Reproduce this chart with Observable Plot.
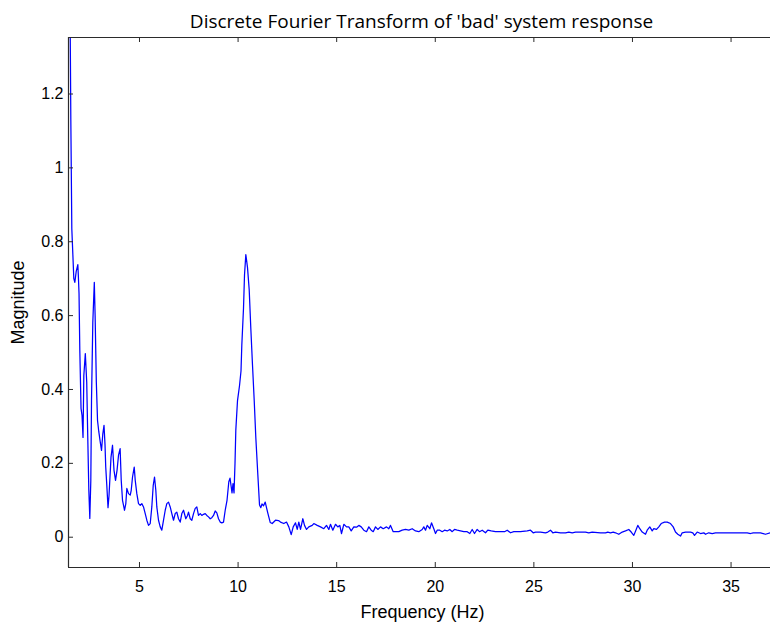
<!DOCTYPE html>
<html>
<head>
<meta charset="utf-8">
<script src="https://cdn.jsdelivr.net/npm/d3@7"></script>
<script src="https://cdn.jsdelivr.net/npm/@observablehq/plot@0.6"></script>
<style>
  html, body { margin: 0; padding: 0; background: #fff; overflow: hidden; }
  #chart svg { display: block; }
</style>
</head>
<body>
<div id="chart"></div>
<script>
// ---- Data ----
const titleText = "Discrete Fourier Transform of 'bad' system response";
const xLabelText = "Frequency (Hz)";
const yLabelText = "Magnitude";

const xTicks = [5, 10, 15, 20, 25, 30, 35];
const yTicks = [0, 0.2, 0.4, 0.6, 0.8, 1, 1.2];
const yTickLabels = ["0", "0.2", "0.4", "0.6", "0.8", "1", "1.2"];

const xDomain = [1.4, 37.0];
const yDomain = [-0.082, 1.353];

const freqHz = [
  1.477, 1.518, 1.568, 1.670, 1.721, 1.792, 1.873, 1.898, 1.934, 1.974,
  2.035, 2.086, 2.136, 2.177, 2.253, 2.324, 2.375, 2.431, 2.481, 2.532,
  2.567, 2.633, 2.709, 2.750, 2.811, 2.872, 2.938, 3.009, 3.075, 3.140,
  3.201, 3.252, 3.288, 3.343, 3.404, 3.455, 3.556, 3.632, 3.708, 3.785,
  3.861, 3.937, 4.018, 4.074, 4.139, 4.241, 4.307, 4.358, 4.444, 4.530,
  4.581, 4.647, 4.733, 4.784, 4.865, 4.951, 5.037, 5.118, 5.204, 5.291,
  5.372, 5.458, 5.544, 5.625, 5.696, 5.762, 5.828, 5.879, 5.965, 6.051,
  6.132, 6.219, 6.305, 6.386, 6.472, 6.558, 6.640, 6.726, 6.811, 6.893,
  6.979, 7.065, 7.147, 7.233, 7.349, 7.436, 7.486, 7.572, 7.654, 7.740,
  7.826, 7.907, 7.993, 8.080, 8.161, 8.247, 8.333, 8.414, 8.501, 8.587,
  8.668, 8.754, 8.840, 8.922, 9.008, 9.094, 9.175, 9.261, 9.347, 9.439,
  9.530, 9.591, 9.642, 9.692, 9.743, 9.794, 9.844, 9.885, 9.971, 10.072,
  10.148, 10.189, 10.275, 10.326, 10.392, 10.443, 10.478, 10.564, 10.646, 10.732,
  10.818, 10.899, 11.001, 11.087, 11.153, 11.213, 11.290, 11.376, 11.508, 11.629,
  11.731, 11.898, 12.050, 12.152, 12.319, 12.456, 12.573, 12.694, 12.796, 12.912,
  12.999, 13.080, 13.166, 13.283, 13.369, 13.470, 13.587, 13.759, 13.840, 14.013,
  14.180, 14.347, 14.484, 14.601, 14.687, 14.804, 14.941, 15.057, 15.159, 15.245,
  15.362, 15.499, 15.615, 15.737, 15.869, 16.006, 16.122, 16.244, 16.376, 16.513,
  16.630, 16.751, 16.853, 16.969, 17.086, 17.223, 17.360, 17.527, 17.644, 17.730,
  17.867, 17.984, 18.151, 18.323, 18.490, 18.658, 18.830, 18.998, 19.165, 19.337,
  19.418, 19.505, 19.591, 19.723, 19.809, 19.926, 20.012, 20.098, 20.230, 20.352,
  20.468, 20.605, 20.737, 20.859, 20.975, 21.112, 21.280, 21.447, 21.619, 21.751,
  21.873, 21.989, 22.126, 22.243, 22.380, 22.547, 22.664, 22.836, 23.055, 23.308,
  23.511, 23.648, 23.815, 23.982, 24.322, 24.662, 24.829, 24.966, 25.083, 25.336,
  25.590, 25.707, 25.843, 25.960, 26.097, 26.350, 26.604, 26.772, 26.944, 27.111,
  27.618, 27.786, 27.958, 28.379, 28.633, 28.749, 28.886, 29.023, 29.140, 29.307,
  29.479, 29.647, 29.814, 29.936, 30.068, 30.189, 30.270, 30.372, 30.494, 30.661,
  30.747, 30.879, 31.001, 31.082, 31.219, 31.335, 31.457, 31.624, 31.761, 31.929,
  32.066, 32.182, 32.299, 32.436, 32.522, 32.690, 32.943, 33.060, 33.147, 33.283,
  33.450, 33.618, 33.704, 33.871, 34.044, 34.211, 34.464, 34.804, 35.311, 35.818,
  35.986, 36.122, 36.325, 36.493, 36.746, 37.000
];

const magnitude = [
  1.450, 1.130, 0.835, 0.700, 0.690, 0.720, 0.738, 0.710, 0.660, 0.505,
  0.349, 0.330, 0.270, 0.438, 0.497, 0.420, 0.276, 0.127, 0.051, 0.154,
  0.370, 0.582, 0.690, 0.600, 0.420, 0.316, 0.285, 0.258, 0.235, 0.280,
  0.303, 0.250, 0.190, 0.140, 0.080, 0.113, 0.217, 0.249, 0.181, 0.154,
  0.181, 0.222, 0.240, 0.154, 0.100, 0.073, 0.091, 0.132, 0.118, 0.114,
  0.127, 0.163, 0.190, 0.154, 0.118, 0.091, 0.086, 0.091, 0.082, 0.064,
  0.046, 0.032, 0.037, 0.082, 0.140, 0.163, 0.127, 0.082, 0.046, 0.028,
  0.019, 0.046, 0.073, 0.091, 0.095, 0.082, 0.064, 0.046, 0.064, 0.068,
  0.050, 0.041, 0.064, 0.073, 0.050, 0.059, 0.068, 0.050, 0.046, 0.064,
  0.078, 0.082, 0.059, 0.064, 0.059, 0.062, 0.064, 0.059, 0.055, 0.050,
  0.053, 0.059, 0.071, 0.066, 0.050, 0.041, 0.039, 0.041, 0.073, 0.100,
  0.150, 0.160, 0.140, 0.120, 0.145, 0.120, 0.200, 0.290, 0.370, 0.410,
  0.450, 0.520, 0.620, 0.710, 0.765, 0.745, 0.730, 0.670, 0.565, 0.465,
  0.370, 0.270, 0.170, 0.087, 0.080, 0.090, 0.085, 0.095, 0.065, 0.040,
  0.037, 0.046, 0.045, 0.041, 0.037, 0.041, 0.028, 0.007, 0.028, 0.039,
  0.021, 0.041, 0.021, 0.050, 0.032, 0.021, 0.028, 0.032, 0.037, 0.032,
  0.028, 0.023, 0.032, 0.021, 0.035, 0.019, 0.035, 0.028, 0.032, 0.010,
  0.035, 0.028, 0.028, 0.017, 0.028, 0.027, 0.032, 0.028, 0.019, 0.015,
  0.028, 0.019, 0.015, 0.028, 0.021, 0.028, 0.023, 0.028, 0.023, 0.032,
  0.015, 0.015, 0.015, 0.019, 0.021, 0.019, 0.023, 0.017, 0.015, 0.021,
  0.028, 0.019, 0.032, 0.023, 0.039, 0.023, 0.010, 0.019, 0.019, 0.015,
  0.019, 0.017, 0.021, 0.015, 0.021, 0.019, 0.017, 0.015, 0.015, 0.010,
  0.021, 0.010, 0.021, 0.015, 0.019, 0.012, 0.019, 0.017, 0.015, 0.015,
  0.015, 0.019, 0.012, 0.015, 0.015, 0.017, 0.019, 0.012, 0.014, 0.014,
  0.012, 0.014, 0.019, 0.012, 0.014, 0.012, 0.012, 0.014, 0.012, 0.014,
  0.014, 0.012, 0.014, 0.012, 0.012, 0.014, 0.012, 0.014, 0.012, 0.008,
  0.014, 0.017, 0.021, 0.014, 0.005, 0.021, 0.032, 0.023, 0.014, 0.008,
  0.019, 0.028, 0.017, 0.023, 0.021, 0.028, 0.037, 0.041, 0.041, 0.037,
  0.028, 0.014, 0.008, 0.003, 0.012, 0.014, 0.014, 0.012, 0.005, 0.014,
  0.010, 0.012, 0.008, 0.012, 0.010, 0.012, 0.012, 0.012, 0.012, 0.012,
  0.010, 0.012, 0.012, 0.012, 0.008, 0.012
];

// ---- Build table ----
const spectrum = freqHz.map((f, i) => ({f, m: magnitude[i]}));

const W = 770, H = 626;
const mL = 68, mR = 0, mT = 37, mB = 59;
const plotW = W - mL - mR, plotH = H - mT - mB;
const tickLen = 5;
const frameColor = "#2b2b2b";
const yMid = (yDomain[0] + yDomain[1]) / 2;

const chart = Plot.plot({
  width: W,
  height: H,
  marginLeft: mL,
  marginRight: mR,
  marginTop: mT,
  marginBottom: mB,
  style: {
    fontFamily: "'Liberation Sans', Arial, sans-serif",
    fontSize: "16px",
    background: "#ffffff",
    color: "#000000",
    overflow: "visible"
  },
  x: {domain: xDomain},
  y: {domain: yDomain},
  marks: [
    // data line
    Plot.line(spectrum, {x: "f", y: "m", stroke: "#0000ff", strokeWidth: 1.25, clip: true}),
    // frame: left, bottom, top
    Plot.ruleX([xDomain[0]], {stroke: frameColor, strokeWidth: 1.2}),
    Plot.ruleY([yDomain[0]], {stroke: frameColor, strokeWidth: 1.2}),
    Plot.ruleY([yDomain[1]], {stroke: frameColor, strokeWidth: 1.2}),
    // inward ticks
    Plot.ruleX(xTicks, {x: d => d, insetTop: plotH - tickLen, stroke: frameColor}),
    Plot.ruleX(xTicks, {x: d => d, insetBottom: plotH - tickLen, stroke: frameColor}),
    Plot.ruleY(yTicks, {y: d => d, insetRight: plotW - tickLen, stroke: frameColor}),
    // tick labels
    Plot.axisX({ticks: xTicks, tickSize: 0, tickPadding: 13, label: null, fontSize: 16}),
    Plot.axisY({ticks: yTicks, tickSize: 0, tickPadding: 5, label: null, fontSize: 16,
      tickFormat: d => yTickLabels[yTicks.indexOf(d)]}),
    // axis titles
    Plot.text([xLabelText], {frameAnchor: "bottom", dy: 50, dx: 3, text: d => d, fontSize: 18}),
    Plot.text([yLabelText], {x: xDomain[0], y: yMid, dx: -50, rotate: -90, text: d => d, fontSize: 18}),
    // chart title
    Plot.text([titleText], {frameAnchor: "top", dy: -23, dx: 2, text: d => d,
      fontFamily: "'Open Sans', sans-serif", fontSize: 19})
  ]
});

document.getElementById("chart").appendChild(chart);
</script>
</body>
</html>
